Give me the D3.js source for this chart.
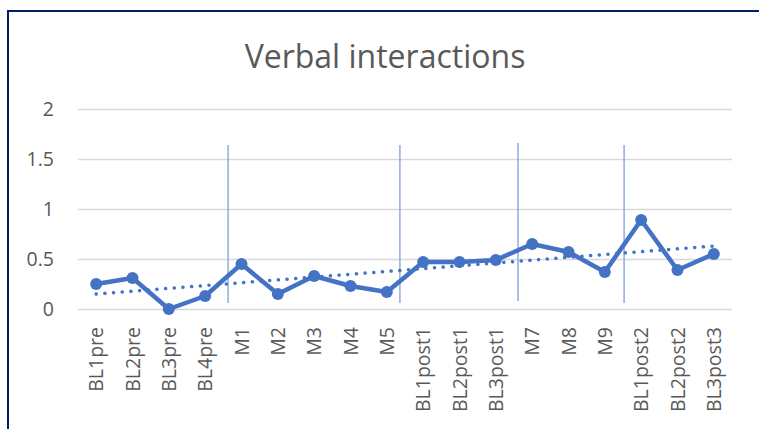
<!DOCTYPE html>
<html>
<head>
<meta charset="utf-8">
<script src="https://cdn.jsdelivr.net/npm/d3@7"></script>
<style>
  body { margin: 0; background: #fff; }
  svg { display: block; font-family: "Open Sans", sans-serif; }
</style>
</head>
<body>
<svg id="chart" width="759" height="429"></svg>
<script>
// Session labels along the x axis.
const categories = ['BL1pre', 'BL2pre', 'BL3pre', 'BL4pre', 'M1', 'M2', 'M3', 'M4', 'M5',
  'BL1post1', 'BL2post1', 'BL3post1', 'M7', 'M8', 'M9', 'BL1post2', 'BL2post2', 'BL3post3'];
// Verbal interactions per session.
const values = [0.25, 0.31, 0.0, 0.13, 0.45, 0.15, 0.33, 0.23, 0.17,
  0.47, 0.47, 0.49, 0.65, 0.57, 0.37, 0.89, 0.39, 0.55];
// Dotted linear trendline, value at first and last category.
const trendIndex = [0, 17];
const trendValues = [0.15, 0.63];
// Phase separator lines, in category-index units, with their top/bottom values.
const separators = [3.63, 8.36, 11.61, 14.53];
const sepTop = [1.64, 1.64, 1.66, 1.64];
const sepBottom = [0.06, 0.06, 0.08, 0.06];
// Y axis ticks.
const yTicks = [0, 0.5, 1, 1.5, 2];
const yTickLabels = ['0', '0.5', '1', '1.5', '2'];

const svg = d3.select('#chart');
const blue = '#4472C4';

//Chart area border (only top and left show in the frame).
svg.append('rect')
  .attr('x', 8).attr('y', 11)
  .attr('width', 800).attr('height', 500)
  .attr('fill', 'none')
  .attr('stroke', '#002060')
  .attr('stroke-width', 2);

//Title
svg.append('text')
  .attr('x', 385).attr('y', 68)
  .attr('text-anchor', 'middle')
  .style('font-size', '32px')
  .attr('fill', '#595959')
  .text('Verbal interactions');

let x = d3.scalePoint()
  .domain(categories)
  .range([78, 732])
  .padding(0.5);

//index scale for things that sit between categories
let xi = d3.scaleLinear()
  .domain([0, categories.length - 1])
  .range([x(categories[0]), x(categories[categories.length - 1])]);

let y = d3.scaleLinear()
  .domain([0, 2])
  .range([309, 109]);

//Gridlines + y labels
let yAxis = d3.axisLeft(y)
  .tickValues(yTicks)
  .tickFormat((d, i) => yTickLabels[i])
  .tickSize(-(732 - 78))
  .tickPadding(24);

let gy = svg.append('g')
  .attr('transform', 'translate(78,0)')
  .call(yAxis);
gy.select('.domain').remove();
gy.selectAll('.tick line').attr('stroke', '#d9d9d9').attr('stroke-width', 1.3);
gy.selectAll('.tick text')
  .attr('fill', '#595959')
  .style('font-size', '19.5px')
  .style('font-family', '"Open Sans", sans-serif');

//Category labels, rotated
let xAxis = d3.axisBottom(x).tickSize(0).tickPadding(0);
let gx = svg.append('g')
  .attr('transform', 'translate(0,327)')
  .call(xAxis);
gx.select('.domain').remove();
gx.selectAll('.tick text')
  .attr('transform', 'rotate(-90)')
  .attr('text-anchor', 'end')
  .attr('x', 0).attr('y', 0)
  .attr('dy', '0.35em')
  .attr('fill', '#595959')
  .style('font-size', '19.5px')
  .style('font-family', '"Open Sans", sans-serif');

//Phase separator lines
svg.append('g').selectAll('line')
  .data(separators)
  .join('line')
  .attr('x1', d => xi(d)).attr('x2', d => xi(d))
  .attr('y1', (d, i) => y(sepTop[i]))
  .attr('y2', (d, i) => y(sepBottom[i]))
  .attr('stroke', '#7F9FD8')
  .attr('stroke-width', 1.3);

//Data line
let lineFn = d3.line()
  .x((d, i) => x(categories[i]))
  .y(d => y(d));

svg.append('path')
  .attr('d', lineFn(values))
  .attr('fill', 'none')
  .attr('stroke', blue)
  .attr('stroke-width', 4.5)
  .attr('stroke-linejoin', 'round');

//Trendline (dotted)
svg.append('path')
  .attr('d', d3.line().x((d, i) => xi(trendIndex[i])).y(d => y(d))(trendValues))
  .attr('fill', 'none')
  .attr('stroke', blue)
  .attr('stroke-width', 3.5)
  .attr('stroke-linecap', 'round')
  .attr('stroke-dasharray', '0.1 8.6');

//Markers
svg.append('g').selectAll('circle')
  .data(values)
  .join('circle')
  .attr('cx', (d, i) => x(categories[i]))
  .attr('cy', d => y(d))
  .attr('r', 6)
  .attr('fill', blue);
</script>
</body>
</html>
